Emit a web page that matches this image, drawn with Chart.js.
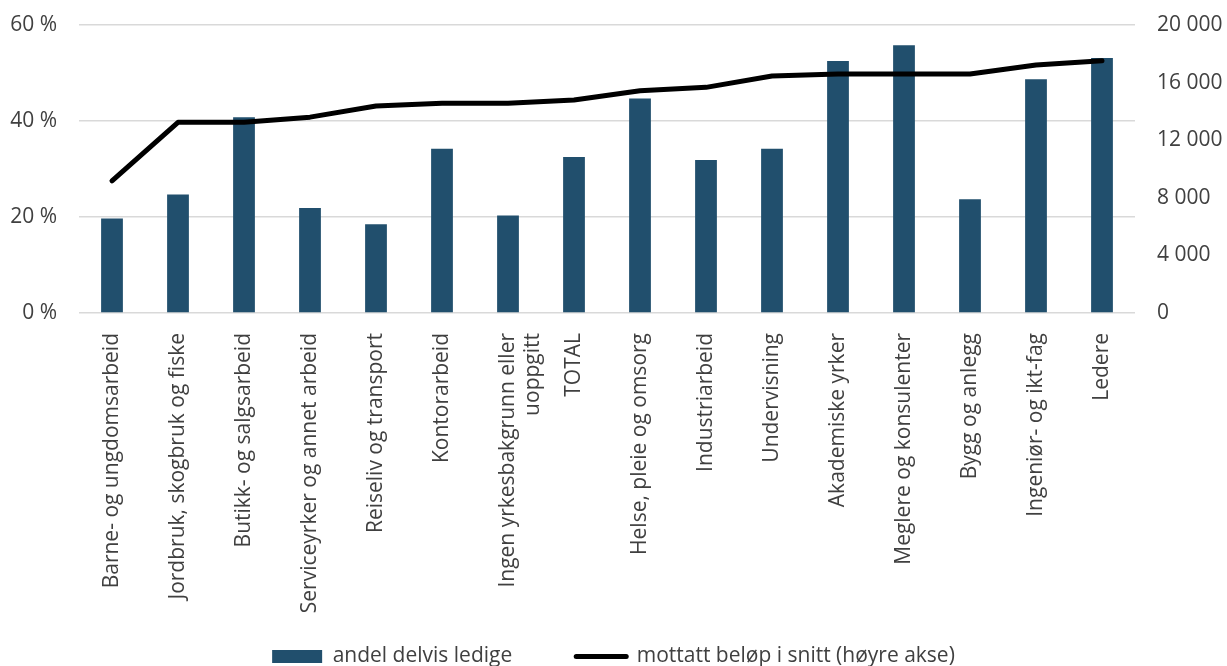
<!DOCTYPE html>
<html>
<head>
<meta charset="utf-8">
<script src="https://cdn.jsdelivr.net/npm/chart.js@4"></script>
<style>
  html, body { margin: 0; padding: 0; background: #ffffff; }
  #wrap { width: 1227px; height: 666px; }
</style>
</head>
<body>
<div id="wrap"><canvas id="chart" width="1227" height="666"></canvas></div>
<script>
const categories = [
    "Barne- og ungdomsarbeid",
    "Jordbruk, skogbruk og fiske",
    "Butikk- og salgsarbeid",
    "Serviceyrker og annet arbeid",
    "Reiseliv og transport",
    "Kontorarbeid",
    ["Ingen yrkesbakgrunn eller", "uoppgitt"],
    "TOTAL",
    "Helse, pleie og omsorg",
    "Industriarbeid",
    "Undervisning",
    "Akademiske yrker",
    "Meglere og konsulenter",
    "Bygg og anlegg",
    "Ingeniør- og ikt-fag",
    "Ledere"
];

// andel delvis ledige (%)
const shareValues = [19.7, 24.7, 40.8, 21.9, 18.5, 34.2, 20.3, 32.5, 44.7, 31.9, 34.2, 52.5, 55.8, 23.7, 48.7, 53.1];

// mottatt beløp i snitt (kr, høyre akse)
const amountValues = [9170, 13240, 13240, 13600, 14380, 14560, 14560, 14790, 15440, 15670, 16460, 16600, 16600, 16600, 17220, 17520];

const leftTicks = [0, 20, 40, 60];
const rightTicks = [0, 4000, 8000, 12000, 16000, 20000];

const barLabel = "andel delvis ledige";
const lineLabel = "mottatt beløp i snitt (høyre akse)";

const textColor = "#404040";
const fontFamily = "'Open Sans', 'Noto Sans', sans-serif";
const fontSize = 21;

function fmtThousands(v) {
    return String(v).replace(/\B(?=(\d{3})+(?!\d))/g, " ");
}

// fixed side widths so the plot sits where the original has it
function fixWidth(w) {
    return (axis) => {
        axis.width = w;
        axis.paddingTop = 0;
        axis.paddingBottom = 0;
    };
}

const ctx = document.getElementById("chart").getContext("2d");

new Chart(ctx, {
    type: "bar",
    data: {
        labels: categories,
        datasets: [
            {
                type: "bar",
                label: barLabel,
                data: shareValues,
                backgroundColor: "#214f6d",
                borderWidth: 0,
                barPercentage: 0.66,
                categoryPercentage: 0.5,
                yAxisID: "y",
                order: 1
            },
            {
                type: "line",
                label: lineLabel,
                data: amountValues,
                borderColor: "#000000",
                backgroundColor: "#000000",
                borderWidth: 5,
                borderCapStyle: "round",
                borderJoinStyle: "round",
                tension: 0,
                pointRadius: 0,
                pointHoverRadius: 0,
                fill: false,
                yAxisID: "y1",
                order: 0
            }
        ]
    },
    options: {
        responsive: false,
        animation: false,
        layout: {
            padding: { top: 25, left: 0, right: 0, bottom: -11 }
        },
        plugins: {
            tooltip: { enabled: false },
            legend: {
                position: "bottom",
                labels: {
                    color: textColor,
                    font: { family: fontFamily, size: fontSize },
                    usePointStyle: true,
                    pointStyleWidth: 50,
                    boxHeight: 13,
                    padding: 64,
                    sort: (a, b) => a.datasetIndex - b.datasetIndex,
                    generateLabels: (chart) => {
                        const items = Chart.defaults.plugins.legend.labels.generateLabels(chart);
                        items.forEach(item => {
                            if (item.datasetIndex === 1) {
                                item.pointStyle = "line";
                                item.lineWidth = 5;
                                item.strokeStyle = "#000000";
                                item.lineCap = "round";
                            } else {
                                item.pointStyle = "rect";
                                item.lineWidth = 0;
                            }
                        });
                        return items;
                    }
                }
            }
        },
        scales: {
            x: {
                grid: { display: false, drawTicks: false },
                border: { display: false },
                afterFit: (axis) => {
                    axis.height = 269;
                    // long rotated labels run past the shortened axis box, so don't clip them
                    axis._computeLabelArea = () => null;
                },
                ticks: {
                    color: textColor,
                    font: { family: fontFamily, size: fontSize },
                    minRotation: 90,
                    maxRotation: 90,
                    autoSkip: false,
                    padding: 20
                }
            },
            y: {
                position: "left",
                min: 0,
                max: 60,
                afterBuildTicks: (axis) => {
                    axis.ticks = leftTicks.map(v => ({ value: v }));
                },
                afterFit: fixWidth(79),
                grid: { color: "#d9d9d9", lineWidth: 1.5, drawTicks: false },
                border: { display: false },
                ticks: {
                    color: textColor,
                    font: { family: fontFamily, size: fontSize },
                    padding: 22,
                    callback: (v) => v + " %"
                }
            },
            y1: {
                position: "right",
                min: 0,
                max: 20000,
                afterBuildTicks: (axis) => {
                    axis.ticks = rightTicks.map(v => ({ value: v }));
                },
                afterFit: fixWidth(92),
                grid: { display: false, drawTicks: false },
                border: { display: false },
                ticks: {
                    color: textColor,
                    font: { family: fontFamily, size: fontSize },
                    padding: 22,
                    callback: (v) => fmtThousands(v)
                }
            }
        }
    }
});
</script>
</body>
</html>
